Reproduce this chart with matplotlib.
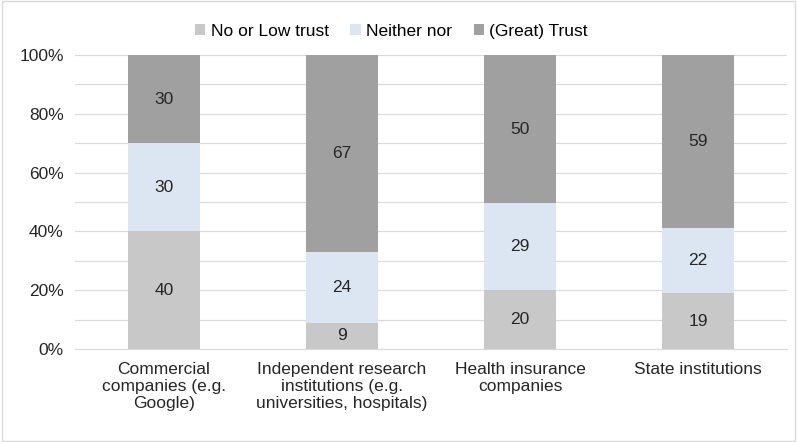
import matplotlib.pyplot as plt
import numpy as np

categories = ["Commercial\ncompanies (e.g.\nGoogle)",
              "Independent research\ninstitutions (e.g.\nuniversities, hospitals)",
              "Health insurance\ncompanies",
              "State institutions"]
low_trust = [40, 9, 20, 19]
neither = [30, 24, 29, 22]
great_trust = [30, 67, 50, 59]

series_names = ["No or Low trust", "Neither nor", "(Great) Trust"]
colors = ["#c8c8c8", "#dce6f2", "#a0a0a0"]

plt.rcParams['font.family'] = ['Liberation Sans', 'DejaVu Sans']

fig = plt.figure(figsize=(7.97, 4.42), dpi=100)
ax = fig.add_axes([0.094, 0.2104, 0.8935, 0.6652])

data = np.array([low_trust, neither, great_trust], dtype=float)
totals = data.sum(axis=0)
shares = data / totals * 100

x = np.arange(len(categories))
bottom = np.zeros(len(categories))
for i in range(3):
    ax.bar(x, shares[i], 0.4, bottom=bottom, color=colors[i], label=series_names[i], zorder=2)
    for j in range(len(categories)):
        ax.text(x[j], bottom[j] + shares[i][j] / 2, str(int(data[i][j])),
                ha='center', va='center', fontsize=12.5, color='#262626', zorder=3)
    bottom += shares[i]

ax.set_xlim(-0.5, len(categories) - 0.5)
ax.set_ylim(0, 100)
ax.set_yticks(np.arange(0, 101, 20))
ax.set_yticklabels([f"{v}%" for v in range(0, 101, 20)])
ax.set_yticks(np.arange(0, 101, 10), minor=True)
ax.grid(axis='y', which='both', color='#d9d9d9', linewidth=0.8, zorder=0)
ax.tick_params(axis='y', which='both', length=0, labelsize=12.5, pad=8, colors='#262626')
ax.set_xticks(x)
ax.set_xticklabels(categories, fontsize=12.5, color='#262626')
ax.tick_params(axis='x', length=0, pad=9)
for s in ['top', 'right', 'left']:
    ax.spines[s].set_visible(False)
ax.spines['bottom'].set_color('#d9d9d9')

fig.legend(loc='upper center', bbox_to_anchor=(0.491, 0.982), ncol=3, frameon=False,
           fontsize=12.5, handlelength=0.6, handleheight=0.6, handletextpad=0.3, columnspacing=1.25)

border = plt.Rectangle((0.002, 0.002), 0.996, 0.996, transform=fig.transFigure,
                       fill=False, edgecolor='#d9d9d9', linewidth=1)
fig.patches.append(border)

fig.savefig("out.png", dpi=100)
